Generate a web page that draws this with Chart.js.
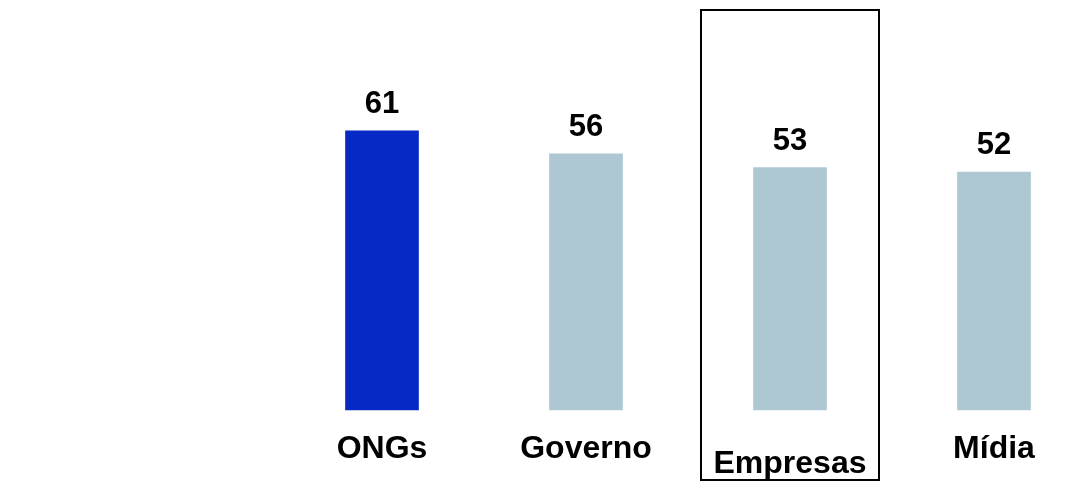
<!DOCTYPE html>
<html>
<head>
<meta charset="utf-8">
<script src="https://cdn.jsdelivr.net/npm/chart.js@4/dist/chart.umd.min.js"></script>
<style>
    html, body { margin: 0; padding: 0; background: #fff; }
    #wrap { width: 1092px; height: 484px; position: relative; }
</style>
</head>
<body>
<div id="wrap"><canvas id="barChart" width="1092" height="484"></canvas></div>
<script>
// Chart data
const categories = ['ONGs', 'Governo', 'Empresas', 'Mídia'];
const values = [61, 56, 53, 52];
const barColors = ['#0628c4', '#adc8d3', '#adc8d3', '#adc8d3'];
const highlighted = 'Empresas';

const FONT = "'Liberation Sans', Arial, sans-serif";

// value labels above bars + category labels below
const labelsPlugin = {
    id: 'labelsPlugin',
    afterDatasetsDraw(chart) {
        const ctx = chart.ctx;
        const meta = chart.getDatasetMeta(0);
        const xScale = chart.scales.x;
        ctx.save();
        ctx.fillStyle = '#000';
        ctx.textAlign = 'center';
        ctx.textBaseline = 'alphabetic';
        ctx.font = 'bold 31px ' + FONT;
        meta.data.forEach((bar, i) => {
            ctx.fillText(String(values[i]), bar.x, bar.y - 18);
        });
        ctx.font = 'bold 32px ' + FONT;
        categories.forEach((cat, i) => {
            const x = xScale.getPixelForValue(i);
            const y = chart.chartArea.bottom + (cat === highlighted ? 63 : 48);
            ctx.fillText(cat, x, y);
        });
        ctx.restore();
    }
};

// box around highlighted category
const boxPlugin = {
    id: 'boxPlugin',
    afterDraw(chart) {
        const idx = categories.indexOf(highlighted);
        if (idx < 0) return;
        const ctx = chart.ctx;
        const x = chart.scales.x.getPixelForValue(idx);
        ctx.save();
        ctx.strokeStyle = '#000';
        ctx.lineWidth = 2;
        ctx.strokeRect(x - 89, 10, 178, 470);
        ctx.restore();
    }
};

new Chart(document.getElementById('barChart'), {
    type: 'bar',
    data: {
        labels: categories,
        datasets: [{
            data: values,
            backgroundColor: barColors,
            borderWidth: 0,
            barThickness: 73,
            clip: false
        }]
    },
    options: {
        responsive: false,
        animation: false,
        layout: {
            padding: { left: 382, right: 98, top: 44, bottom: 74 }
        },
        scales: {
            x: { display: false, offset: false, grid: { display: false } },
            y: { display: false, min: 0, max: 80, grid: { display: false } }
        },
        plugins: {
            legend: { display: false },
            tooltip: { enabled: false }
        }
    },
    plugins: [labelsPlugin, boxPlugin]
});
</script>
</body>
</html>
